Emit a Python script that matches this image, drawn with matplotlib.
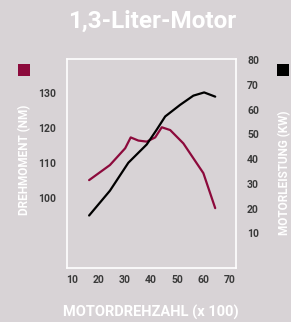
import matplotlib
matplotlib.use("Agg")
import matplotlib.pyplot as plt
from matplotlib.patches import Rectangle

# Data
rpm_torque = [16.5, 24.4, 30.2, 32.3, 35.2, 38.4, 41.6, 44.1, 47.3, 52.3, 59.9, 64.4]
torque_nm = [105.1, 109.4, 114.2, 117.3, 116.4, 116.1, 117.3, 120.2, 119.4, 115.6, 107.1, 97.1]
rpm_power = [16.5, 24.4, 31.4, 38.4, 42.2, 45.4, 51.1, 56.1, 60.2, 64.4]
power_kw = [17.2, 27.2, 38.5, 45.9, 51.9, 57.2, 61.9, 65.6, 66.9, 65.2]
x_ticks = [10, 20, 30, 40, 50, 60, 70]
left_ticks = [100, 110, 120, 130]
right_ticks = [10, 20, 30, 40, 50, 60, 70, 80]

BG = "#d8d3d6"
RED = "#8c0a3c"
TICKC = "#3a3a3a"
W, H = 291, 322

plt.rcParams['font.family'] = ['Roboto', 'DejaVu Sans']
fig = plt.figure(figsize=(W/100, H/100), dpi=100, facecolor=BG)

# plot box: x 67..236, y 59..268 (pixel, top origin)
ax = fig.add_axes([67/W, 1-268/H, (236-67)/W, (268-59)/H])
ax.set_facecolor(BG)
ax.set_xlim(8.1, 72.3)
ax.set_ylim(80.0, 139.7)
for s in ax.spines.values():
    s.set_color("white")
    s.set_linewidth(1.2)
ax.plot(rpm_torque, torque_nm, color=RED, lw=1.6, solid_capstyle='round')
ax.set_xticks(x_ticks)
ax.set_yticks(left_ticks)
ax.tick_params(length=0, labelsize=7.5, labelcolor=TICKC, pad=5)
for lab in ax.get_xticklabels() + ax.get_yticklabels():
    lab.set_fontweight('bold')
ax.tick_params(axis='y', pad=8)

ax2 = ax.twinx()
ax2.set_ylim(-4.0, 80.4)
ax2.plot(rpm_power, power_kw, color="black", lw=1.6, solid_capstyle='round')
ax2.set_yticks(right_ticks)
ax2.tick_params(length=0, labelsize=7.5, labelcolor=TICKC, pad=8)
for lab in ax2.get_yticklabels():
    lab.set_fontweight('bold')
for s in ax2.spines.values():
    s.set_visible(False)

# title
fig.text(152/W, 1-21/H, "1,3-Liter-Motor", color="white", fontsize=17.5,
         fontweight='bold', ha='center', va='center')
# axis labels
fig.text(25/W, 1-160/H, "DREHMOMENT (NM)", color="white", fontsize=8.5,
         fontweight='bold', rotation=90, ha='center', va='center')
fig.text(285/W, 1-173/H, "MOTORLEISTUNG (KW)", color="white", fontsize=8.5,
         fontweight='bold', rotation=90, ha='center', va='center')
fig.text(151/W, 1-312/H, "MOTORDREHZAHL (x 100)", color="white", fontsize=10.5,
         fontweight='bold', ha='center', va='center')
# legend squares
fig.patches.append(Rectangle((18/W, 1-76/H), 12/W, 12/H, transform=fig.transFigure,
                             facecolor=RED, edgecolor='none'))
fig.patches.append(Rectangle((277/W, 1-76/H), 12/W, 12/H, transform=fig.transFigure,
                             facecolor='black', edgecolor='none'))

fig.savefig("out.png", dpi=100, facecolor=BG)
